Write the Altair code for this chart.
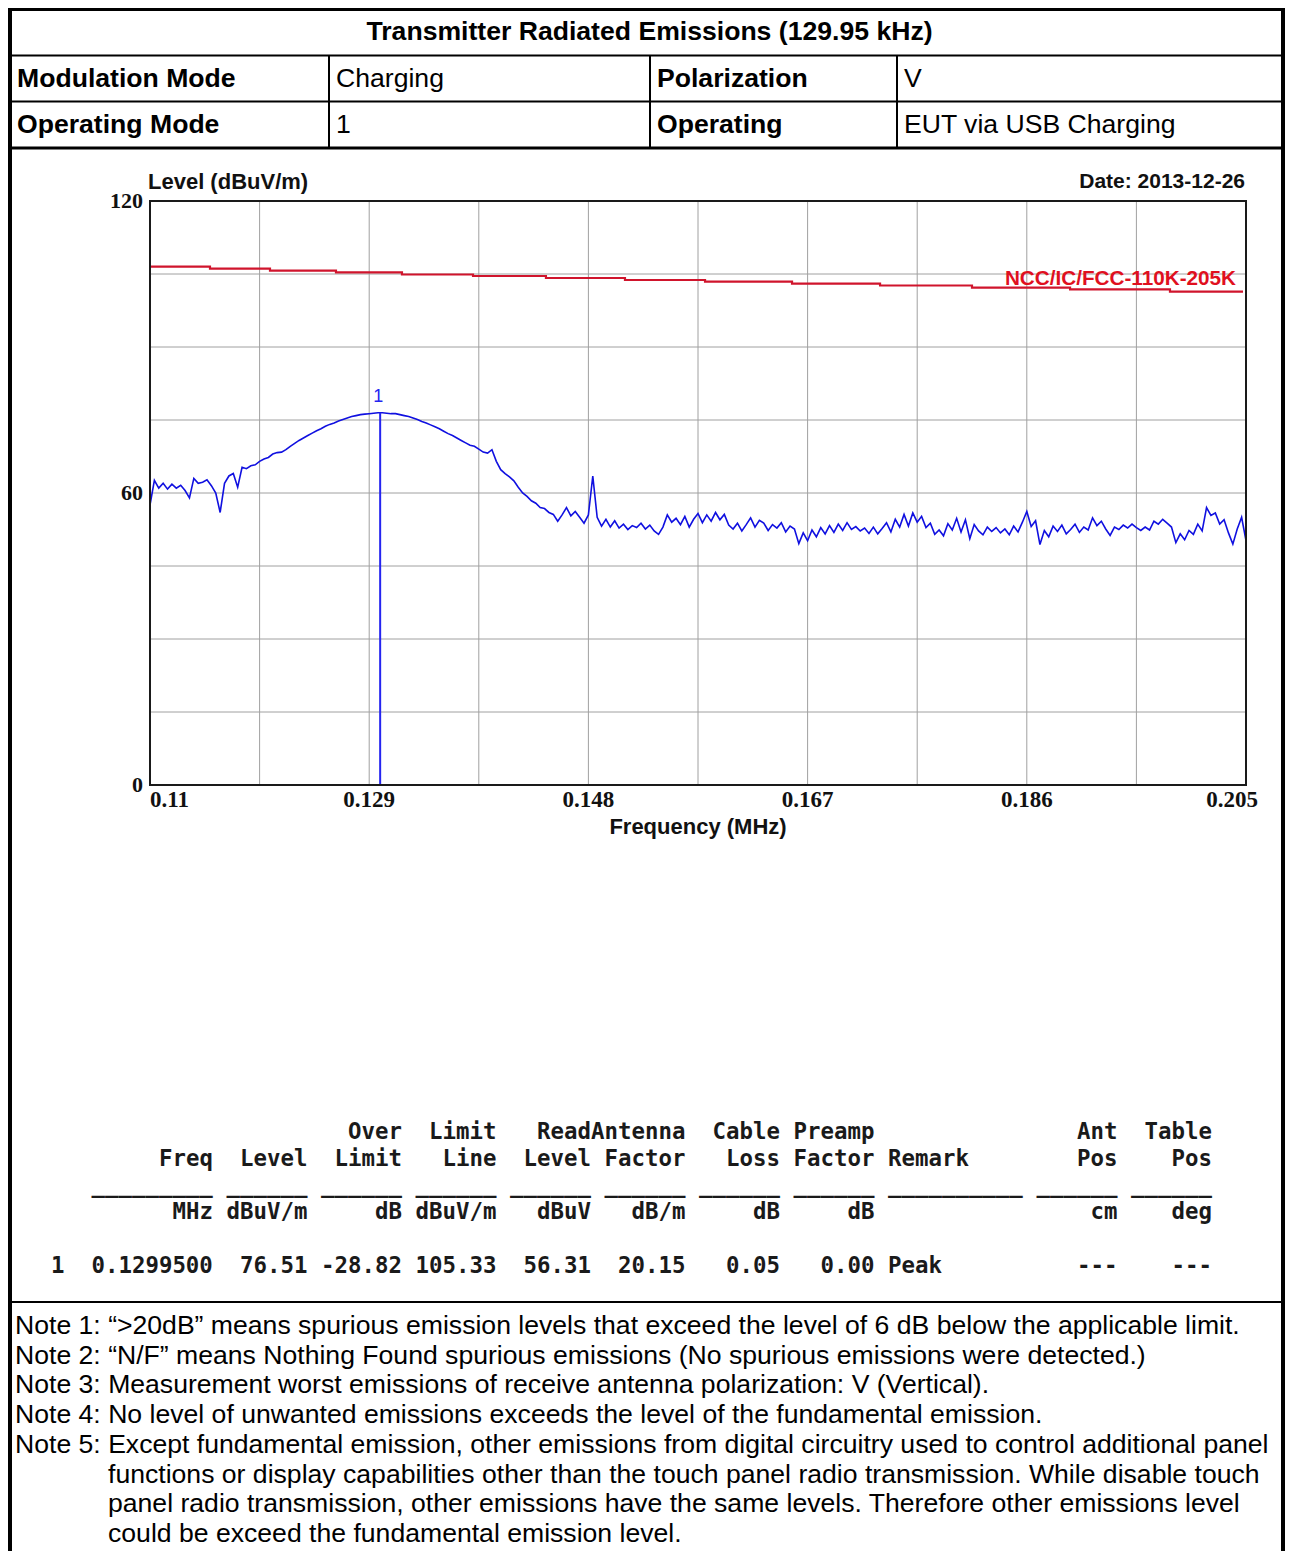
import altair as alt
import pandas as pd

# ---------------- data ----------------
TITLE = "Transmitter Radiated Emissions (129.95 kHz)"
HEAD_ROW1 = ["Modulation Mode", "Charging", "Polarization", "V"]
HEAD_ROW2 = ["Operating Mode", "1", "Operating", "EUT via USB Charging"]
HEAD_BOLD = [True, False, True, False]

Y_AXIS_TITLE = "Level (dBuV/m)"
X_AXIS_TITLE = "Frequency (MHz)"
DATE_TEXT = "Date: 2013-12-26"
LIMIT_NAME = "NCC/IC/FCC-110K-205K"

FREQ_START = 0.110
FREQ_STEP = 0.00038
LEVEL = [
    57.5, 62.6, 61.0, 62.0, 60.8, 61.8, 61.0, 61.6, 60.5, 59.0,
    63.0, 62.0, 62.2, 62.7, 61.5, 60.0, 56.0, 62.0, 63.5, 64.0,
    61.2, 65.3, 65.0, 65.6, 65.8, 66.5, 67.0, 67.3, 68.0, 68.3,
    68.4, 68.9, 69.6, 70.2, 70.8, 71.3, 71.8, 72.3, 72.8, 73.2,
    73.7, 74.1, 74.4, 74.8, 75.1, 75.4, 75.7, 75.9, 76.1, 76.2,
    76.3, 76.4, 76.5, 76.5, 76.4, 76.3, 76.3, 76.1, 75.9, 75.7,
    75.4, 75.1, 74.7, 74.4, 74.0, 73.6, 73.2, 72.7, 72.2, 71.8,
    71.3, 70.8, 70.3, 69.8, 69.6, 69.0, 68.4, 68.2, 68.9, 66.5,
    64.8, 64.0, 63.3, 62.5, 61.2, 60.0, 59.3, 58.4, 57.9, 57.0,
    56.8, 56.0, 55.6, 54.2, 55.5, 57.0, 55.3, 56.2, 55.0, 53.8,
    55.5, 63.5, 55.0, 53.2, 54.6, 53.0, 54.3, 52.8, 53.6, 52.5,
    53.3, 52.9, 53.8, 52.6, 53.4, 52.2, 51.5, 53.0, 55.5, 54.0,
    54.8, 53.5, 55.2, 53.0, 54.6, 55.8, 53.9, 55.5, 54.2, 56.0,
    54.5, 55.6, 53.4, 52.6, 53.8, 52.2, 53.5, 54.9, 53.0, 54.4,
    53.8, 52.3, 53.5, 52.8, 53.9, 52.0, 53.2, 52.6, 49.6, 51.8,
    50.2, 52.4, 51.0, 52.9, 51.6, 53.3, 51.9, 53.6, 52.3, 53.9,
    52.5, 53.1, 52.2, 52.8, 51.7, 53.0, 51.6, 52.7, 53.9, 52.0,
    54.6, 53.0, 55.6, 53.2, 55.9, 54.0, 55.2, 52.9, 53.8, 51.5,
    52.4, 51.2, 53.7, 52.4, 54.8, 52.0, 54.5, 50.6, 53.5, 52.2,
    51.4, 53.0, 52.1, 52.9, 51.8, 52.6, 51.4, 53.2, 52.0, 54.0,
    56.2, 53.1, 54.3, 49.4, 52.3, 51.0, 53.2, 52.1, 53.4, 51.6,
    52.5, 53.6, 51.9, 53.0, 52.4, 54.9, 53.3, 54.2, 52.6, 51.3,
    53.0, 52.5, 53.4, 52.8, 53.6, 52.9, 52.3, 53.0, 52.4, 54.2,
    53.6, 54.6, 53.8, 53.0, 49.8, 51.6, 50.4, 52.3, 51.5, 53.6,
    52.2, 57.0, 55.4, 55.9, 53.6, 54.5, 51.8, 49.5, 52.6, 55.0,
    50.2,
]

# limit line steps (MHz, dBuV/m)
LIMIT_FREQ = [0.11, 0.1152, 0.1204, 0.12612, 0.13184, 0.138, 0.14432, 0.15117,
              0.15811, 0.16565, 0.17328, 0.18125, 0.18975, 0.19841, 0.20474]
LIMIT_LEVEL = [106.5, 106.09, 105.68, 105.33, 104.9, 104.59, 104.18, 103.77,
               103.42, 103.01, 102.64, 102.18, 101.86, 101.36, 101.36]

MARKER_FREQ = 0.12995
MARKER_LEVEL = 76.51
MARKER_LABEL = "1"

X_GRID = [0.11, 0.1195, 0.129, 0.1385, 0.148, 0.1575, 0.167, 0.1765, 0.186, 0.1955, 0.205]
X_LABELS = [0.11, 0.129, 0.148, 0.167, 0.186, 0.205]
Y_GRID = [0, 15, 30, 45, 60, 75, 90, 105, 120]
Y_LABELS = [0, 60, 120]

TBL_HEAD1 = ["", "", "Over", "Limit", "Read", "Antenna", "Cable", "Preamp", "", "Ant", "Table"]
TBL_HEAD2 = ["Freq", "Level", "Limit", "Line", "Level", "Factor", "Loss", "Factor", "Remark", "Pos", "Pos"]
TBL_UNITS = ["MHz", "dBuV/m", "dB", "dBuV/m", "dBuV", "dB/m", "dB", "dB", "", "cm", "deg"]
TBL_ROW_NO = "1"
TBL_VALUES = ["0.1299500", "76.51", "-28.82", "105.33", "56.31", "20.15", "0.05", "0.00", "Peak", "---", "---"]

NOTES = [
    "Note 1: \u201c>20dB\u201d means spurious emission levels that exceed the level of 6 dB below the applicable limit.",
    "Note 2: \u201cN/F\u201d means Nothing Found spurious emissions (No spurious emissions were detected.)",
    "Note 3: Measurement worst emissions of receive antenna polarization: V (Vertical).",
    "Note 4: No level of unwanted emissions exceeds the level of the fundamental emission.",
    "Note 5: Except fundamental emission, other emissions from digital circuitry used to control additional panel",
    "functions or display capabilities other than the touch panel radio transmission. While disable touch",
    "panel radio transmission, other emissions have the same levels. Therefore other emissions level",
    "could be exceed the fundamental emission level.",
]
NOTES_INDENT = [0, 0, 0, 0, 0, 1, 1, 1]

# ---------------- layout (chart pixels) ----------------
W, H = 1277, 1543
FRAME_L, FRAME_R, FRAME_T, FRAME_B = 2, 1275, 1, H + 20
HEAD_ROW_EDGES = [FRAME_T, 47.5, 93.5, 140]
HEAD_COL_EDGES = [FRAME_L, 321, 642, 889, FRAME_R]
TITLE_Y = 24
NOTES_SEP = 1294
CELL_PAD = 7
PLOT_X = [142, 1238]
PLOT_Y = [777, 193]
TBL_X0, CHAR_W, TBL_COLS = 43, 13.5, 86
TBL_Y = [1124, 1258]
TBL_RIGHT = [12, 19, 26, 33, 40, 47, 54, 61, 72, 79, 86]
TBL_WIDTH = [9, 6, 6, 6, 6, 6, 6, 6, 10, 6, 6]
TBL_LEFT_ALIGNED = [False] * 8 + [True] + [False] * 2
NOTE_X = [7, 100]
NOTE_Y = [1318, 1526]

SANS = "Liberation Sans"
SERIF = "Liberation Serif"
MONO = "DejaVu Sans Mono"
DOC_SIZE = 26.6
ONE = pd.DataFrame({"k": [0]})

# ---------------- page (header table + frame) ----------------
PX = alt.Scale(domain=[0, W], range=[0, W], nice=False, zero=False)
PY = alt.Scale(domain=[0, H], range=[0, H], nice=False, zero=False)

frame = alt.Chart(ONE).mark_rect(fill="white", fillOpacity=0, stroke="black", strokeWidth=4).encode(
    x=alt.XDatum(FRAME_L, type="quantitative", scale=PX, axis=None),
    x2=alt.X2Datum(FRAME_R),
    y=alt.YDatum(FRAME_T, type="quantitative", scale=PY, axis=None),
    y2=alt.Y2Datum(FRAME_B),
)

line_rows = []
for i, y in enumerate(HEAD_ROW_EDGES[1:]):
    line_rows.append(dict(x=FRAME_L, x2=FRAME_R, y=y, y2=y, w=3 if i == 2 else 2))
for c in HEAD_COL_EDGES[1:-1]:
    line_rows.append(dict(x=c, x2=c, y=HEAD_ROW_EDGES[1], y2=HEAD_ROW_EDGES[3], w=2))
line_rows.append(dict(x=FRAME_L, x2=FRAME_R, y=NOTES_SEP, y2=NOTES_SEP, w=2))
lines = alt.Chart(pd.DataFrame(line_rows)).mark_rule(color="black").encode(
    x=alt.X("x:Q", scale=PX, axis=None), x2="x2:Q",
    y=alt.Y("y:Q", scale=PY, axis=None), y2="y2:Q",
    strokeWidth=alt.StrokeWidth("w:Q", scale=None, legend=None),
)

head_rows = []
for r, row in enumerate([HEAD_ROW1, HEAD_ROW2]):
    yc = (HEAD_ROW_EDGES[r + 1] + HEAD_ROW_EDGES[r + 2]) / 2
    for c, txt in enumerate(row):
        head_rows.append(dict(x=HEAD_COL_EDGES[c] + CELL_PAD, y=yc, t=txt, b=HEAD_BOLD[c]))
head_df = pd.DataFrame(head_rows)

title_txt = alt.Chart(pd.DataFrame({"t": [TITLE]})).mark_text(
    font=SANS, fontSize=DOC_SIZE, fontWeight="bold", align="center", baseline="middle", color="black"
).encode(
    x=alt.XDatum((FRAME_L + 1281) / 2, type="quantitative", scale=PX, axis=None),
    y=alt.YDatum(TITLE_Y, type="quantitative", scale=PY, axis=None),
    text="t:N",
)
head_bold = alt.Chart(head_df[head_df.b]).mark_text(
    font=SANS, fontSize=DOC_SIZE, fontWeight="bold", align="left", baseline="middle", color="black"
).encode(x=alt.X("x:Q", scale=PX, axis=None), y=alt.Y("y:Q", scale=PY, axis=None), text="t:N")
head_norm = alt.Chart(head_df[~head_df.b]).mark_text(
    font=SANS, fontSize=DOC_SIZE, align="left", baseline="middle", color="black"
).encode(x=alt.X("x:Q", scale=PX, axis=None), y=alt.Y("y:Q", scale=PY, axis=None), text="t:N")

page = alt.layer(frame, lines, title_txt, head_bold, head_norm)

# ---------------- spectrum plot ----------------
SX = alt.Scale(domain=[0.11, 0.205], range=PLOT_X, nice=False, zero=False)
SY = alt.Scale(domain=[0, 120], range=PLOT_Y, nice=False, zero=False)


def xd(v):
    return alt.XDatum(v, type="quantitative", scale=SX, axis=None)


def yd(v):
    return alt.YDatum(v, type="quantitative", scale=SY, axis=None)


def xf(f):
    return alt.X(f, type="quantitative", scale=SX, axis=None)


def yf(f):
    return alt.Y(f, type="quantitative", scale=SY, axis=None)


GRID_C = "#a0a0a0"
vgrid = alt.Chart(pd.DataFrame({"f": X_GRID})).mark_rule(color=GRID_C, strokeWidth=1).encode(
    x=xf("f"), y=yd(0), y2=alt.Y2Datum(120))
hgrid = alt.Chart(pd.DataFrame({"v": Y_GRID})).mark_rule(color=GRID_C, strokeWidth=1).encode(
    y=yf("v"), x=xd(0.11), x2=alt.X2Datum(0.205))
pframe = alt.Chart(ONE).mark_rect(fill="white", fillOpacity=0, stroke="#1a1a1a", strokeWidth=2).encode(
    x=xd(0.11), x2=alt.X2Datum(0.205), y=yd(0), y2=alt.Y2Datum(120))

trace_df = pd.DataFrame({
    "f": [round(FREQ_START + i * FREQ_STEP, 6) for i in range(len(LEVEL))],
    "v": LEVEL,
})
trace = alt.Chart(trace_df).mark_line(color="#1010e0", strokeWidth=1.6).encode(x=xf("f"), y=yf("v"))

limit = alt.Chart(pd.DataFrame({"f": LIMIT_FREQ, "v": LIMIT_LEVEL})).mark_line(
    color="#d0142c", strokeWidth=2.2, interpolate="step-after").encode(x=xf("f"), y=yf("v"))
limit_lbl = alt.Chart(pd.DataFrame({"t": [LIMIT_NAME]})).mark_text(
    font=SANS, fontSize=20.7, fontWeight="bold", color="#e0101e", align="right", baseline="middle", dx=-10, dy=-13
).encode(x=xd(0.205), y=yd(LIMIT_LEVEL[-1]), text="t:N")

mk_df = pd.DataFrame({"f": [MARKER_FREQ], "v": [MARKER_LEVEL], "t": [MARKER_LABEL]})
marker = alt.Chart(mk_df).mark_rule(color="#2424f0", strokeWidth=2).encode(x=xf("f"), y=yf("v"), y2=alt.Y2Datum(0))
marker_lbl = alt.Chart(mk_df).mark_text(
    font=SANS, fontSize=18, color="#2424f0", align="center", baseline="middle", dx=-2, dy=-16
).encode(x=xf("f"), y=yf("v"), text="t:N")

xl_df = pd.DataFrame({"f": X_LABELS, "t": [str(v) for v in X_LABELS]})
XL_STYLE = dict(font=SERIF, fontSize=23, fontWeight="bold", color="#111111", baseline="middle", dy=15)
xl_first = alt.Chart(xl_df.iloc[:1]).mark_text(align="left", **XL_STYLE).encode(x=xf("f"), y=yd(0), text="t:N")
xl_mid = alt.Chart(xl_df.iloc[1:-1]).mark_text(align="center", **XL_STYLE).encode(x=xf("f"), y=yd(0), text="t:N")
xl_last = alt.Chart(xl_df.iloc[-1:]).mark_text(align="right", dx=12, **XL_STYLE).encode(x=xf("f"), y=yd(0), text="t:N")

yl_df = pd.DataFrame({"v": Y_LABELS, "t": [str(v) for v in Y_LABELS]})
yl = alt.Chart(yl_df).mark_text(
    font=SERIF, fontSize=22, fontWeight="bold", color="#111111", align="right", baseline="middle", dx=-7
).encode(x=xd(0.11), y=yf("v"), text="t:N")

T_STYLE = dict(font=SANS, fontWeight="bold", color="#111111", baseline="middle")
ytitle = alt.Chart(pd.DataFrame({"t": [Y_AXIS_TITLE]})).mark_text(
    align="left", dx=-2, dy=-19, fontSize=22, **T_STYLE).encode(x=xd(0.11), y=yd(120), text="t:N")
date = alt.Chart(pd.DataFrame({"t": [DATE_TEXT]})).mark_text(
    align="right", dx=-1, dy=-19, fontSize=21, **T_STYLE).encode(x=xd(0.205), y=yd(120), text="t:N")
xtitle = alt.Chart(pd.DataFrame({"t": [X_AXIS_TITLE]})).mark_text(
    align="center", dy=42, fontSize=22, **T_STYLE).encode(x=xd((0.11 + 0.205) / 2), y=yd(0), text="t:N")

spectrum = alt.layer(vgrid, hgrid, limit, trace, marker, pframe, limit_lbl, marker_lbl,
                     xl_first, xl_mid, xl_last, yl, ytitle, date, xtitle)

# ---------------- result table (fixed-width text) ----------------
TX = alt.Scale(domain=[0, TBL_COLS], range=[TBL_X0, TBL_X0 + TBL_COLS * CHAR_W], nice=False, zero=False)
TY = alt.Scale(domain=[0, 5], range=TBL_Y, nice=False, zero=False)
cells = [dict(c=0, r=5, t=TBL_ROW_NO)]
for j in range(len(TBL_RIGHT)):
    right, width = TBL_RIGHT[j], TBL_WIDTH[j]
    for r, lst in [(0, TBL_HEAD1), (1, TBL_HEAD2), (3, TBL_UNITS), (5, TBL_VALUES)]:
        txt = lst[j]
        if not txt:
            continue
        start = right - width if TBL_LEFT_ALIGNED[j] else right - len(txt)
        cells.append(dict(c=start, r=r, t=txt))
    cells.append(dict(c=right - width, r=2, t="_" * width))
table = alt.Chart(pd.DataFrame(cells)).mark_text(
    font=MONO, fontSize=22.4, fontWeight="bold", color="#1a1a1a", align="left", baseline="middle"
).encode(
    x=alt.X("c:Q", scale=TX, axis=None),
    y=alt.Y("r:Q", scale=TY, axis=None),
    text="t:N",
)

# ---------------- notes ----------------
NX = alt.Scale(domain=[0, 1], range=NOTE_X, nice=False, zero=False)
NY = alt.Scale(domain=[0, len(NOTES) - 1], range=NOTE_Y, nice=False, zero=False)
notes_df = pd.DataFrame({"line": list(range(len(NOTES))), "ind": NOTES_INDENT, "t": NOTES})
notes = alt.Chart(notes_df).mark_text(
    font=SANS, fontSize=DOC_SIZE, color="black", align="left", baseline="middle"
).encode(
    x=alt.X("ind:Q", scale=NX, axis=None),
    y=alt.Y("line:Q", scale=NY, axis=None),
    text="t:N",
)

chart = alt.layer(page, spectrum, table, notes).resolve_scale(
    x="independent", y="independent"
).properties(
    width=W, height=H, padding=0, autosize=alt.AutoSizeParams(type="none")
).configure_view(stroke="transparent")

chart.save("out.html", embed_options={"renderer": "svg", "actions": False})
